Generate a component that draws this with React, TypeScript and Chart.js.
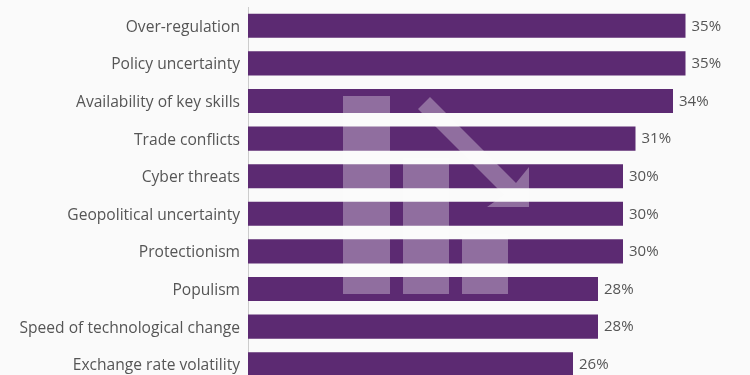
import React, { useEffect, useRef } from "react";
import { Chart, registerables } from "chart.js";

Chart.register(...registerables);

const categories = [
  "Over-regulation",
  "Policy uncertainty",
  "Availability of key skills",
  "Trade conflicts",
  "Cyber threats",
  "Geopolitical uncertainty",
  "Protectionism",
  "Populism",
  "Speed of technological change",
  "Exchange rate volatility",
];
const values = [35, 35, 34, 31, 30, 30, 30, 28, 28, 26];
const xMax = 40;

const BAR_COLOR = "#5c2a72";
const TEXT_COLOR = "#555555";
const FONT = "'Open Sans', sans-serif";

const valueLabelPlugin = {
  id: "valueLabels",
  afterDatasetsDraw(chart: any) {
    const ctx = chart.ctx;
    const meta = chart.getDatasetMeta(0);
    ctx.save();
    ctx.font = `15px ${FONT}`;
    ctx.fillStyle = TEXT_COLOR;
    ctx.textAlign = "left";
    ctx.textBaseline = "middle";
    meta.data.forEach((bar: any, i: number) => {
      ctx.fillText(`${values[i]}%`, bar.x + 6, bar.y + 0.5);
    });
    ctx.restore();
  },
};

// decorative trend icon (semi-transparent white), positioned relative to the chart area
const iconPlugin = {
  id: "trendIcon",
  afterDatasetsDraw(chart: any) {
    const { left, top } = chart.chartArea;
    const ctx = chart.ctx;
    const ox = left;
    const oy = top;
    ctx.save();
    ctx.fillStyle = "rgba(255,255,255,0.32)";
    const rects = [
      [95, 89, 47, 198],
      [155, 151, 46, 136],
      [214, 227, 46, 60],
    ];
    rects.forEach(([x, y, w, h]) => ctx.fillRect(ox + x, oy + y, w, h));
    // arrow
    ctx.beginPath();
    ctx.moveTo(ox + 182, oy + 90);
    ctx.lineTo(ox + 268, oy + 176);
    ctx.lineTo(ox + 281, oy + 160);
    ctx.lineTo(ox + 281, oy + 200);
    ctx.lineTo(ox + 239, oy + 200);
    ctx.lineTo(ox + 256, oy + 188);
    ctx.lineTo(ox + 170, oy + 102);
    ctx.closePath();
    ctx.fill();
    ctx.restore();
  },
};

export default function App() {
  const canvasRef = useRef<HTMLCanvasElement | null>(null);

  useEffect(() => {
    document.body.style.margin = "0";
    document.body.style.background = "#fafafa";
    const canvas = canvasRef.current;
    if (!canvas) return;
    const chart = new Chart(canvas, {
      type: "bar",
      data: {
        labels: categories,
        datasets: [
          {
            data: values,
            backgroundColor: BAR_COLOR,
            borderWidth: 0,
            categoryPercentage: 1,
            barPercentage: 0.64,
          },
        ],
      },
      options: {
        indexAxis: "y",
        animation: false,
        responsive: false,
        maintainAspectRatio: false,
        layout: { padding: { top: 7, right: 2, bottom: 1, left: 0 } },
        plugins: {
          legend: { display: false },
          tooltip: { enabled: false },
        },
        scales: {
          x: {
            display: false,
            min: 0,
            max: xMax,
          },
          y: {
            grid: { display: false, drawTicks: false },
            border: { display: true, color: "#cccccc", width: 1 },
            ticks: {
              color: TEXT_COLOR,
              font: { family: FONT, size: 15.6 },
              padding: 8,
              labelOffset: 1.5,
            },
            afterFit(scale: any) {
              scale.width = 248;
              scale.paddingTop = 0;
              scale.paddingBottom = 0;
            },
          },
        },
      },
      plugins: [iconPlugin, valueLabelPlugin],
    });
    return () => chart.destroy();
  }, []);

  return (
    <div style={{ width: 750, height: 375, overflow: "hidden", background: "#fafafa" }}>
      <canvas ref={canvasRef} width={750} height={384} style={{ display: "block" }} />
    </div>
  );
}
